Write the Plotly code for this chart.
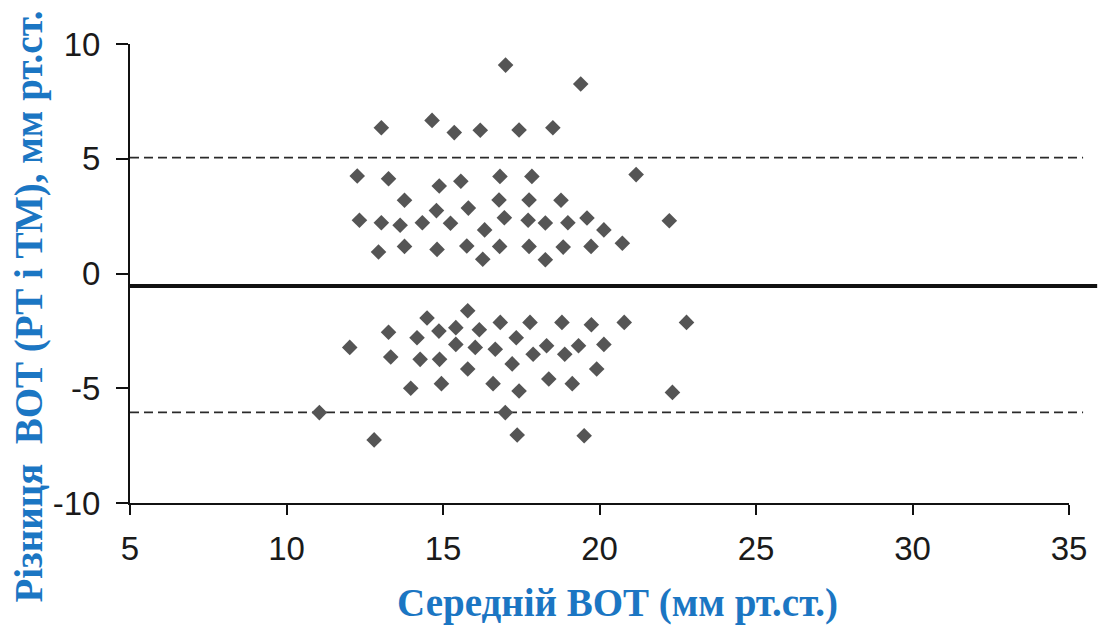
import plotly.graph_objects as go

# Bland-Altman: mean IOP vs difference between methods
mean_iop = [
    17.00, 19.40, 13.03, 14.65, 15.36, 16.19, 17.43, 18.51,
    12.26, 13.26, 14.88, 15.57, 16.82, 17.84, 21.17,
    13.77, 14.79, 15.81, 16.79, 17.75, 18.77,
    12.33, 13.03, 13.63, 14.34, 15.24, 16.33, 16.96, 17.72, 18.27, 18.99, 19.60, 20.14, 22.23,
    12.94, 13.77, 14.81, 15.76, 16.27, 16.81, 17.75, 18.27, 18.84, 19.73, 20.73,
    15.79, 14.49, 13.26, 14.17, 14.87, 15.41, 16.16, 16.83, 17.78, 18.80, 19.74, 20.79, 22.78, 17.34,
    12.02, 13.33, 14.27, 14.89, 15.41, 16.03, 16.67, 17.21, 17.88, 18.31, 18.89, 19.33, 20.14,
    15.79, 19.91, 13.97, 14.95, 16.60, 17.43, 18.38, 19.13, 22.33,
    11.05, 16.99, 12.80, 17.37, 19.51,
]
diff_iop = [
    9.08, 8.26, 6.35, 6.67, 6.14, 6.24, 6.25, 6.35,
    4.25, 4.13, 3.81, 4.02, 4.23, 4.23, 4.31,
    3.19, 2.74, 2.85, 3.20, 3.20, 3.19,
    2.32, 2.21, 2.10, 2.21, 2.19, 1.90, 2.43, 2.32, 2.20, 2.21, 2.42, 1.90, 2.30,
    0.94, 1.18, 1.05, 1.20, 0.62, 1.18, 1.18, 0.60, 1.15, 1.18, 1.32,
    -1.62, -1.94, -2.56, -2.80, -2.51, -2.36, -2.45, -2.13, -2.13, -2.13, -2.23, -2.13, -2.13, -2.80,
    -3.22, -3.64, -3.74, -3.74, -3.09, -3.22, -3.30, -3.94, -3.52, -3.15, -3.52, -3.15, -3.09,
    -4.16, -4.16, -5.00, -4.80, -4.80, -5.12, -4.60, -4.80, -5.18,
    -6.06, -6.06, -7.25, -7.04, -7.07,
]

mean_diff = -0.55
upper_loa = 5.05
lower_loa = -6.05

x_ticks = [5, 10, 15, 20, 25, 30, 35]
x_tick_text = ["5", "10", "15", "20", "25", "30", "35"]
y_ticks = [-10, -5, 0, 5, 10]
y_tick_text = ["-10", "-5", "0", "5", "10"]

x_title = "Середній ВОТ (мм рт.ст.)"
y_title = "Різниця  ВОТ (РТ і ТМ), мм рт.ст."

title_color = "#1b76c3"
tick_font = dict(family="Liberation Sans, Arial, sans-serif", size=33, color="#1a1a1a")
title_font = dict(family="Liberation Serif, Times New Roman, serif", size=39,
                  color=title_color, weight="bold")

fig = go.Figure()
fig.add_trace(go.Scatter(
    x=mean_iop, y=diff_iop, mode="markers",
    marker=dict(symbol="diamond", size=12, color="#555555",
                line=dict(width=0)),
    hoverinfo="x+y", showlegend=False,
))

# mean difference and limits of agreement, drawn a little past the axis end
fig.add_shape(type="line", xref="paper", yref="y", x0=0, x1=1.03,
              y0=mean_diff, y1=mean_diff, layer="below",
              line=dict(color="#111111", width=4))
for lim in (upper_loa, lower_loa):
    fig.add_shape(type="line", xref="paper", yref="y", x0=0, x1=1.015,
                  y0=lim, y1=lim, layer="below",
                  line=dict(color="#2a2a2a", width=1.8, dash="9px,5px"))

fig.add_annotation(text=x_title, xref="paper", yref="paper",
                   x=0.519, y=-0.218, xanchor="center", yanchor="middle",
                   showarrow=False, font=title_font)
fig.add_annotation(text=y_title, xref="paper", yref="paper",
                   x=-0.108, y=0.427, xanchor="center", yanchor="middle",
                   textangle=-90, showarrow=False, font=title_font)

fig.update_layout(
    width=1099, height=625,
    margin=dict(l=130, r=25, t=44, b=122),
    paper_bgcolor="white", plot_bgcolor="white",
    xaxis=dict(range=[5, 35], tickvals=x_ticks, ticktext=x_tick_text,
               showline=True, linecolor="#111111", linewidth=2,
               ticks="outside", ticklen=10, tickwidth=2, tickcolor="#111111",
               ticklabelstandoff=5,
               showgrid=False, zeroline=False, tickfont=tick_font),
    yaxis=dict(range=[-10, 10], tickvals=y_ticks, ticktext=y_tick_text,
               showline=True, linecolor="#111111", linewidth=2,
               ticks="outside", ticklen=12, tickwidth=2, tickcolor="#111111",
               ticklabelstandoff=9,
               showgrid=False, zeroline=False, tickfont=tick_font),
)

fig.write_html("out.html")
